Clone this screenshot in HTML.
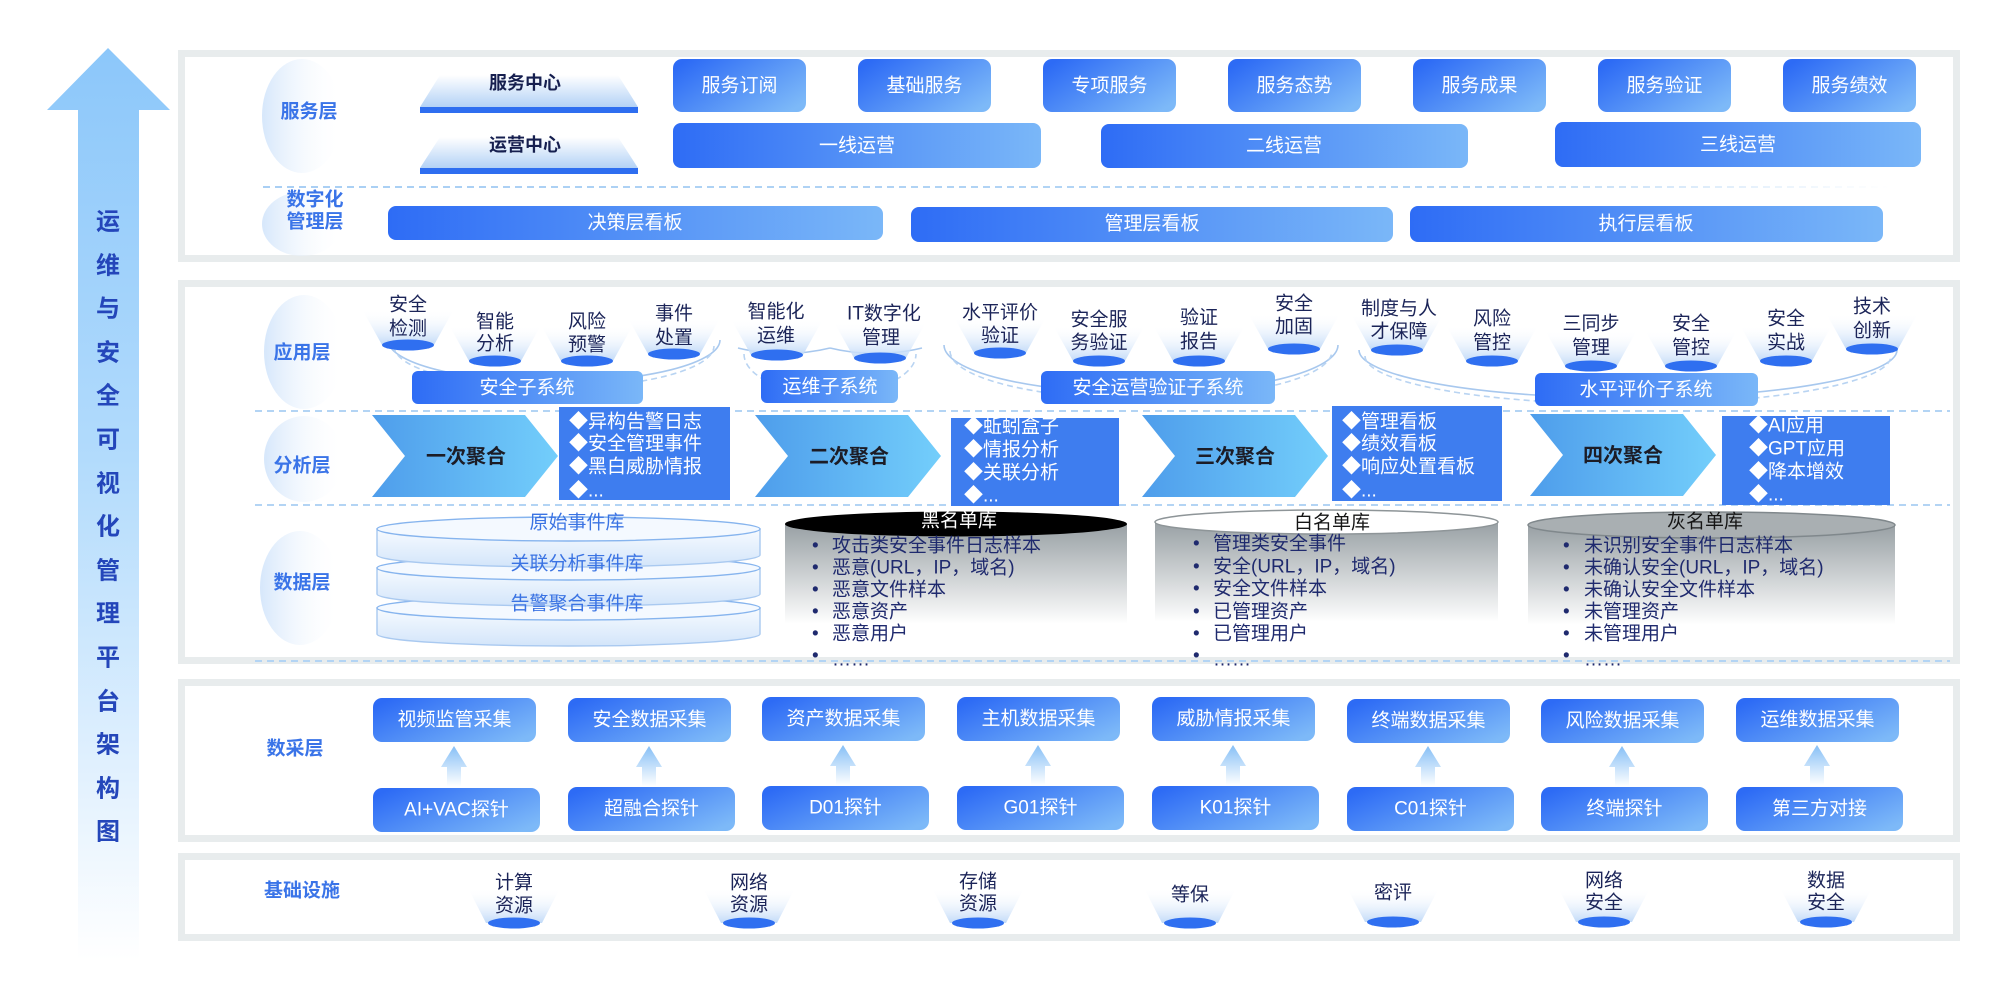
<!DOCTYPE html>
<html><head><meta charset="utf-8">
<style>
html,body{margin:0;padding:0;background:#fff;}
svg{display:block;}
text{font-family:"Liberation Sans","Noto Sans CJK SC",sans-serif;}
.lbl{font-size:19px;font-weight:bold;fill:#3a74e8;text-anchor:middle;dominant-baseline:central;}
.wt{font-size:19px;fill:#ffffff;text-anchor:middle;dominant-baseline:central;}
.nv{font-size:19px;fill:#1b2458;text-anchor:middle;dominant-baseline:central;}
.li{font-size:19px;fill:#ffffff;dominant-baseline:central;}
.dl{font-size:19px;fill:#1f2a6e;dominant-baseline:central;}
.ch{font-size:20px;font-weight:bold;fill:#1c1c26;text-anchor:middle;dominant-baseline:central;}
.vt{font-size:24px;font-weight:bold;fill:#2446ba;text-anchor:middle;dominant-baseline:central;}
</style></head><body>
<svg width="1998" height="987" viewBox="0 0 1998 987" xmlns="http://www.w3.org/2000/svg">
<defs>
 <linearGradient id="arrowG" x1="0" y1="48" x2="0" y2="960" gradientUnits="userSpaceOnUse">
  <stop offset="0" stop-color="#8cc7fa"/>
  <stop offset="0.45" stop-color="#b2dbfc"/>
  <stop offset="0.8" stop-color="#e2f1fe"/>
  <stop offset="1" stop-color="#ffffff"/>
 </linearGradient>
 <linearGradient id="btn" x1="0" y1="0.2" x2="1" y2="0.8">
  <stop offset="0" stop-color="#2d6bf5"/>
  <stop offset="1" stop-color="#7db9f8"/>
 </linearGradient>
 <linearGradient id="bar" x1="0" y1="0" x2="1" y2="0">
  <stop offset="0" stop-color="#2e6cf5"/>
  <stop offset="1" stop-color="#7ab7f8"/>
 </linearGradient>
 <linearGradient id="oval" x1="0" y1="0" x2="1" y2="0">
  <stop offset="0" stop-color="#d6e7fb"/>
  <stop offset="1" stop-color="#ffffff" stop-opacity="0"/>
 </linearGradient>
 <linearGradient id="trap" x1="0" y1="0" x2="0" y2="1">
  <stop offset="0" stop-color="#ffffff"/>
  <stop offset="1" stop-color="#b3d2f6"/>
 </linearGradient>
 <linearGradient id="funnel" x1="0" y1="0" x2="0" y2="1">
  <stop offset="0" stop-color="#ffffff" stop-opacity="0"/>
  <stop offset="1" stop-color="#c1daf8"/>
 </linearGradient>
 <linearGradient id="chev" x1="0" y1="0" x2="1" y2="0">
  <stop offset="0" stop-color="#4e9deb"/>
  <stop offset="1" stop-color="#73cefb"/>
 </linearGradient>
 <linearGradient id="cylBody" x1="0" y1="0" x2="0" y2="1">
  <stop offset="0" stop-color="#98a0a4"/>
  <stop offset="1" stop-color="#ffffff"/>
 </linearGradient>
 <linearGradient id="disc" x1="0" y1="0" x2="0" y2="1">
  <stop offset="0" stop-color="#f7fbff"/>
  <stop offset="1" stop-color="#d3e5fa"/>
 </linearGradient>
 <linearGradient id="upA" x1="0" y1="0" x2="0" y2="1">
  <stop offset="0" stop-color="#86bff6"/>
  <stop offset="1" stop-color="#ffffff"/>
 </linearGradient>
 <linearGradient id="dash1" x1="263" y1="0" x2="1890" y2="0" gradientUnits="userSpaceOnUse">
  <stop offset="0" stop-color="#a9cff4"/>
  <stop offset="0.75" stop-color="#b6d6f5"/>
  <stop offset="1" stop-color="#ffffff"/>
 </linearGradient>
</defs>

<!-- left arrow -->
<polygon points="108,48 170,110 139,110 139,960 78,960 78,110 47,110" fill="url(#arrowG)"/>
<text class="vt" x="108" y="222">运</text>
<text class="vt" x="108" y="266">维</text>
<text class="vt" x="108" y="309">与</text>
<text class="vt" x="108" y="353">安</text>
<text class="vt" x="108" y="396">全</text>
<text class="vt" x="108" y="440">可</text>
<text class="vt" x="108" y="484">视</text>
<text class="vt" x="108" y="527">化</text>
<text class="vt" x="108" y="571">管</text>
<text class="vt" x="108" y="614">理</text>
<text class="vt" x="108" y="658">平</text>
<text class="vt" x="108" y="702">台</text>
<text class="vt" x="108" y="745">架</text>
<text class="vt" x="108" y="789">构</text>
<text class="vt" x="108" y="832">图</text>

<!-- panels -->
<rect x="181.5" y="53.5" width="1775" height="205" fill="#fff" stroke="#e8eced" stroke-width="7"/>
<rect x="181.5" y="283.5" width="1775" height="377" fill="#fff" stroke="#e8eced" stroke-width="7"/>
<rect x="181.5" y="682.5" width="1775" height="156" fill="#fff" stroke="#e8eced" stroke-width="7"/>
<rect x="181.5" y="856.5" width="1775" height="81" fill="#fff" stroke="#e8eced" stroke-width="7"/>

<!-- label ovals -->
<ellipse cx="302" cy="116" rx="40" ry="57" fill="url(#oval)"/>
<ellipse cx="302" cy="224" rx="40" ry="32" fill="url(#oval)"/>
<ellipse cx="304" cy="352" rx="40" ry="57" fill="url(#oval)"/>
<ellipse cx="304" cy="459" rx="40" ry="43" fill="url(#oval)"/>
<ellipse cx="300" cy="588" rx="40" ry="57" fill="url(#oval)"/>

<text class="lbl" x="309" y="112">服务层</text>
<text class="lbl" x="315" y="200">数字化</text>
<text class="lbl" x="315" y="222">管理层</text>
<text class="lbl" x="302" y="353">应用层</text>
<text class="lbl" x="302" y="466">分析层</text>
<text class="lbl" x="302" y="583">数据层</text>
<text class="lbl" x="295" y="749">数采层</text>
<text class="lbl" x="302" y="891">基础设施</text>

<!-- dashed separators -->
<line x1="263" y1="187" x2="1890" y2="187" stroke="url(#dash1)" stroke-width="2" stroke-dasharray="7 5"/>
<line x1="255" y1="411" x2="1950" y2="411" stroke="#b3d4f4" stroke-width="2" stroke-dasharray="7 5"/>
<line x1="255" y1="505" x2="1950" y2="505" stroke="#b3d4f4" stroke-width="2" stroke-dasharray="7 5"/>
<line x1="255" y1="661" x2="1950" y2="661" stroke="#b3d4f4" stroke-width="2" stroke-dasharray="7 5"/>

<!-- service center trapezoids -->
<polygon points="440,75 618,75 638,107 420,107" fill="url(#trap)"/>
<rect x="420" y="107" width="218" height="6" fill="#2e6ef0"/>
<text x="525" y="83" font-size="18" font-weight="bold" fill="#161f4f" text-anchor="middle" dominant-baseline="central">服务中心</text>
<polygon points="440,137 618,137 638,168 420,168" fill="url(#trap)"/>
<rect x="420" y="168" width="218" height="6" fill="#2e6ef0"/>
<text x="525" y="145" font-size="18" font-weight="bold" fill="#161f4f" text-anchor="middle" dominant-baseline="central">运营中心</text>

<!-- service boxes -->
<g>
<rect x="673" y="59" width="133" height="53" rx="9" fill="url(#btn)"/><text class="wt" x="739.5" y="86">服务订阅</text>
<rect x="858" y="59" width="133" height="53" rx="9" fill="url(#btn)"/><text class="wt" x="924.5" y="86">基础服务</text>
<rect x="1043" y="59" width="133" height="53" rx="9" fill="url(#btn)"/><text class="wt" x="1109.5" y="86">专项服务</text>
<rect x="1228" y="59" width="133" height="53" rx="9" fill="url(#btn)"/><text class="wt" x="1294.5" y="86">服务态势</text>
<rect x="1413" y="59" width="133" height="53" rx="9" fill="url(#btn)"/><text class="wt" x="1479.5" y="86">服务成果</text>
<rect x="1598" y="59" width="133" height="53" rx="9" fill="url(#btn)"/><text class="wt" x="1664.5" y="86">服务验证</text>
<rect x="1783" y="59" width="133" height="53" rx="9" fill="url(#btn)"/><text class="wt" x="1849.5" y="86">服务绩效</text>
</g>
<rect x="673" y="123" width="368" height="45" rx="8" fill="url(#bar)"/><text class="wt" x="857" y="146">一线运营</text>
<rect x="1101" y="124" width="367" height="44" rx="8" fill="url(#bar)"/><text class="wt" x="1284" y="146">二线运营</text>
<rect x="1555" y="122" width="366" height="45" rx="8" fill="url(#bar)"/><text class="wt" x="1738" y="145">三线运营</text>

<rect x="388" y="206" width="495" height="34" rx="8" fill="url(#bar)"/><text class="wt" x="635" y="223">决策层看板</text>
<rect x="911" y="207" width="482" height="35" rx="8" fill="url(#bar)"/><text class="wt" x="1152" y="224">管理层看板</text>
<rect x="1410" y="206" width="473" height="36" rx="8" fill="url(#bar)"/><text class="wt" x="1646" y="224">执行层看板</text>

<!-- app layer loops -->
<g fill="none" stroke="#a8c8ee" stroke-width="1.6">
<path d="M388,340 A166,42 0 0 0 720,340"/>
<path d="M830,348 A92,40 0 0 0 922,348" />
<path d="M738,348 A92,40 0 0 0 830,348" />
<path d="M944,345 A197,48 0 0 0 1338,345"/>
<path d="M1359,350 A269,48 0 0 0 1897,350"/>
</g>
<g fill="none" stroke="#b9d4f2" stroke-width="1.6" stroke-dasharray="6 4">
<path d="M394,346 A160,42 0 0 0 714,346"/>
<path d="M744,354 A86,40 0 0 0 916,354"/>
<path d="M950,351 A191,48 0 0 0 1332,351"/>
<path d="M1365,356 A263,48 0 0 0 1891,356"/>
</g>

<!-- app funnels -->
<g fill="url(#funnel)">
<polygon points="362,309 454,309 434,345 382,345"/>
<polygon points="449,325 541,325 521,361 469,361"/>
<polygon points="541,325 633,325 613,361 561,361"/>
<polygon points="628,318 720,318 700,354 648,354"/>
<polygon points="731,319 823,319 803,355 751,355"/>
<polygon points="834,322 926,322 906,358 854,358"/>
<polygon points="954,317 1046,317 1026,353 974,353"/>
<polygon points="1053,325 1145,325 1125,361 1073,361"/>
<polygon points="1153,325 1245,325 1225,361 1173,361"/>
<polygon points="1248,313 1340,313 1320,349 1268,349"/>
<polygon points="1351,314 1443,314 1423,350 1371,350"/>
<polygon points="1446,325 1538,325 1518,361 1466,361"/>
<polygon points="1545,330 1637,330 1617,366 1565,366"/>
<polygon points="1645,330 1737,330 1717,366 1665,366"/>
<polygon points="1740,325 1832,325 1812,361 1760,361"/>
<polygon points="1826,313 1918,313 1898,349 1846,349"/>
</g>
<g fill="#2f6ff0">
<ellipse cx="408" cy="345" rx="26" ry="5.5"/>
<ellipse cx="495" cy="361" rx="26" ry="5.5"/>
<ellipse cx="587" cy="361" rx="26" ry="5.5"/>
<ellipse cx="674" cy="354" rx="26" ry="5.5"/>
<ellipse cx="777" cy="355" rx="26" ry="5.5"/>
<ellipse cx="880" cy="358" rx="26" ry="5.5"/>
<ellipse cx="1000" cy="353" rx="26" ry="5.5"/>
<ellipse cx="1099" cy="361" rx="26" ry="5.5"/>
<ellipse cx="1199" cy="361" rx="26" ry="5.5"/>
<ellipse cx="1294" cy="349" rx="26" ry="5.5"/>
<ellipse cx="1397" cy="350" rx="26" ry="5.5"/>
<ellipse cx="1492" cy="361" rx="26" ry="5.5"/>
<ellipse cx="1591" cy="366" rx="26" ry="5.5"/>
<ellipse cx="1691" cy="366" rx="26" ry="5.5"/>
<ellipse cx="1786" cy="361" rx="26" ry="5.5"/>
<ellipse cx="1872" cy="349" rx="26" ry="5.5"/>
</g>
<g>
<text class="nv" x="408" y="305">安全</text><text class="nv" x="408" y="329">检测</text>
<text class="nv" x="495" y="322">智能</text><text class="nv" x="495" y="344">分析</text>
<text class="nv" x="587" y="322">风险</text><text class="nv" x="587" y="345">预警</text>
<text class="nv" x="674" y="314">事件</text><text class="nv" x="674" y="338">处置</text>
<text class="nv" x="776" y="312">智能化</text><text class="nv" x="776" y="336">运维</text>
<text class="nv" x="884" y="314">IT数字化</text><text class="nv" x="881" y="338">管理</text>
<text class="nv" x="1000" y="313">水平评价</text><text class="nv" x="1000" y="336">验证</text>
<text class="nv" x="1099" y="320">安全服</text><text class="nv" x="1099" y="343">务验证</text>
<text class="nv" x="1199" y="318">验证</text><text class="nv" x="1199" y="342">报告</text>
<text class="nv" x="1294" y="304">安全</text><text class="nv" x="1294" y="327">加固</text>
<text class="nv" x="1399" y="309">制度与人</text><text class="nv" x="1399" y="332">才保障</text>
<text class="nv" x="1492" y="319">风险</text><text class="nv" x="1492" y="343">管控</text>
<text class="nv" x="1591" y="324">三同步</text><text class="nv" x="1591" y="348">管理</text>
<text class="nv" x="1691" y="324">安全</text><text class="nv" x="1691" y="348">管控</text>
<text class="nv" x="1786" y="319">安全</text><text class="nv" x="1786" y="343">实战</text>
<text class="nv" x="1872" y="307">技术</text><text class="nv" x="1872" y="331">创新</text>
</g>

<!-- subsystem boxes -->
<rect x="412" y="371" width="231" height="33" rx="6" fill="url(#bar)"/><text class="wt" x="527" y="388">安全子系统</text>
<rect x="761" y="370" width="137" height="33" rx="6" fill="url(#bar)"/><text class="wt" x="830" y="387">运维子系统</text>
<rect x="1041" y="371" width="234" height="33" rx="6" fill="url(#bar)"/><text class="wt" x="1158" y="388">安全运营验证子系统</text>
<rect x="1535" y="373" width="223" height="33" rx="6" fill="url(#bar)"/><text class="wt" x="1646" y="390">水平评价子系统</text>

<!-- analysis chevrons -->
<polygon points="372,415 525,415 558,456 525,497 372,497 405,456" fill="url(#chev)"/>
<text class="ch" x="466" y="457">一次聚合</text>
<polygon points="755,415 908,415 941,456 908,497 755,497 788,456" fill="url(#chev)"/>
<text class="ch" x="849" y="457">二次聚合</text>
<polygon points="1142,415 1295,415 1328,456 1295,497 1142,497 1175,456" fill="url(#chev)"/>
<text class="ch" x="1235" y="457">三次聚合</text>
<polygon points="1530,414 1683,414 1716,455 1683,496 1530,496 1563,455" fill="url(#chev)"/>
<text class="ch" x="1623" y="456">四次聚合</text>

<!-- list boxes -->
<rect x="559" y="407" width="171" height="93" fill="#3e7def"/>
<text class="li" x="569" y="422">◆异构告警日志</text>
<text class="li" x="569" y="444">◆安全管理事件</text>
<text class="li" x="569" y="467">◆黑白威胁情报</text>
<text class="li" x="569" y="491">◆...</text>

<rect x="951" y="418" width="168" height="88" fill="#3e7def"/>
<text class="li" x="964" y="427">◆蚯蚓盒子</text>
<text class="li" x="964" y="450">◆情报分析</text>
<text class="li" x="964" y="473">◆关联分析</text>
<text class="li" x="964" y="496">◆...</text>

<rect x="1332" y="406" width="170" height="95" fill="#3e7def"/>
<text class="li" x="1342" y="422">◆管理看板</text>
<text class="li" x="1342" y="444">◆绩效看板</text>
<text class="li" x="1342" y="467">◆响应处置看板</text>
<text class="li" x="1342" y="491">◆...</text>

<rect x="1722" y="416" width="168" height="89" fill="#3e7def"/>
<text class="li" x="1749" y="426">◆AI应用</text>
<text class="li" x="1749" y="449">◆GPT应用</text>
<text class="li" x="1749" y="472">◆降本增效</text>
<text class="li" x="1749" y="495">◆...</text>

<!-- data layer: discs -->
<g stroke="#a9c9f0" stroke-width="1.4">
<path d="M377,608 L377,634 A191.5,12 0 0 0 760,634 L760,608 Z" fill="url(#disc)"/>
<ellipse cx="568.5" cy="608" rx="191.5" ry="12" fill="#f4f9ff" stroke="#86b4ee"/>
<path d="M377,568 L377,594 A191.5,12 0 0 0 760,594 L760,568 Z" fill="url(#disc)"/>
<ellipse cx="568.5" cy="568" rx="191.5" ry="12" fill="#f4f9ff" stroke="#86b4ee"/>
<path d="M377,529 L377,555 A191.5,12 0 0 0 760,555 L760,529 Z" fill="url(#disc)"/>
<ellipse cx="568.5" cy="529" rx="191.5" ry="12" fill="#f4f9ff" stroke="#86b4ee"/>
</g>
<text x="577" y="523" font-size="19" fill="#3a73e3" text-anchor="middle" dominant-baseline="central">原始事件库</text>
<text x="577" y="564" font-size="19" fill="#3a73e3" text-anchor="middle" dominant-baseline="central">关联分析事件库</text>
<text x="577" y="604" font-size="19" fill="#3a73e3" text-anchor="middle" dominant-baseline="central">告警聚合事件库</text>

<!-- cylinders -->
<rect x="785" y="524" width="342" height="100" fill="url(#cylBody)"/>
<ellipse cx="956" cy="524" rx="171" ry="12.5" fill="#000"/>
<text x="959" y="521" font-size="19" fill="#fff" text-anchor="middle" dominant-baseline="central">黑名单库</text>

<rect x="1155" y="522" width="343" height="100" fill="url(#cylBody)"/>
<ellipse cx="1326.5" cy="522" rx="171.5" ry="12" fill="#fff" stroke="#8e9598" stroke-width="1.5"/>
<text x="1332" y="523" font-size="19" fill="#151515" text-anchor="middle" dominant-baseline="central">白名单库</text>

<rect x="1528" y="525" width="367" height="100" fill="url(#cylBody)"/>
<ellipse cx="1711.5" cy="525" rx="183.5" ry="13" fill="#a9afb2" stroke="#80888c" stroke-width="1.5"/>
<text x="1705" y="522" font-size="19" fill="#151515" text-anchor="middle" dominant-baseline="central">灰名单库</text>

<g>
<text class="dl" x="812" y="546">•</text><text class="dl" x="832" y="546">攻击类安全事件日志样本</text>
<text class="dl" x="812" y="568">•</text><text class="dl" x="832" y="568">恶意(URL，IP，域名)</text>
<text class="dl" x="812" y="590">•</text><text class="dl" x="832" y="590">恶意文件样本</text>
<text class="dl" x="812" y="612">•</text><text class="dl" x="832" y="612">恶意资产</text>
<text class="dl" x="812" y="634">•</text><text class="dl" x="832" y="634">恶意用户</text>
<text class="dl" x="812" y="656">•</text><text class="dl" x="832" y="660">……</text>

<text class="dl" x="1193" y="544">•</text><text class="dl" x="1213" y="544">管理类安全事件</text>
<text class="dl" x="1193" y="567">•</text><text class="dl" x="1213" y="567">安全(URL，IP，域名)</text>
<text class="dl" x="1193" y="589">•</text><text class="dl" x="1213" y="589">安全文件样本</text>
<text class="dl" x="1193" y="612">•</text><text class="dl" x="1213" y="612">已管理资产</text>
<text class="dl" x="1193" y="634">•</text><text class="dl" x="1213" y="634">已管理用户</text>
<text class="dl" x="1193" y="656">•</text><text class="dl" x="1213" y="660">……</text>

<text class="dl" x="1563" y="546">•</text><text class="dl" x="1584" y="546">未识别安全事件日志样本</text>
<text class="dl" x="1563" y="568">•</text><text class="dl" x="1584" y="568">未确认安全(URL，IP，域名)</text>
<text class="dl" x="1563" y="590">•</text><text class="dl" x="1584" y="590">未确认安全文件样本</text>
<text class="dl" x="1563" y="612">•</text><text class="dl" x="1584" y="612">未管理资产</text>
<text class="dl" x="1563" y="634">•</text><text class="dl" x="1584" y="634">未管理用户</text>
<text class="dl" x="1563" y="656">•</text><text class="dl" x="1584" y="660">……</text>
</g>

<!-- collection layer -->
<g>
<rect x="373" y="698" width="163" height="44" rx="9" fill="url(#btn)"/><text class="wt" x="454.5" y="720">视频监管采集</text>
<rect x="568" y="698" width="163" height="44" rx="9" fill="url(#btn)"/><text class="wt" x="649.5" y="720">安全数据采集</text>
<rect x="762" y="697" width="163" height="44" rx="9" fill="url(#btn)"/><text class="wt" x="843.5" y="719">资产数据采集</text>
<rect x="957" y="697" width="163" height="44" rx="9" fill="url(#btn)"/><text class="wt" x="1038.5" y="719">主机数据采集</text>
<rect x="1152" y="697" width="163" height="44" rx="9" fill="url(#btn)"/><text class="wt" x="1233.5" y="719">威胁情报采集</text>
<rect x="1347" y="699" width="163" height="44" rx="9" fill="url(#btn)"/><text class="wt" x="1428.5" y="721">终端数据采集</text>
<rect x="1541" y="699" width="163" height="44" rx="9" fill="url(#btn)"/><text class="wt" x="1622.5" y="721">风险数据采集</text>
<rect x="1736" y="698" width="163" height="44" rx="9" fill="url(#btn)"/><text class="wt" x="1817.5" y="720">运维数据采集</text>

<rect x="373" y="788" width="167" height="44" rx="9" fill="url(#btn)"/><text class="wt" x="456.5" y="810">AI+VAC探针</text>
<rect x="568" y="787" width="167" height="44" rx="9" fill="url(#btn)"/><text class="wt" x="651.5" y="809">超融合探针</text>
<rect x="762" y="786" width="167" height="44" rx="9" fill="url(#btn)"/><text class="wt" x="845.5" y="808">D01探针</text>
<rect x="957" y="786" width="167" height="44" rx="9" fill="url(#btn)"/><text class="wt" x="1040.5" y="808">G01探针</text>
<rect x="1152" y="786" width="167" height="44" rx="9" fill="url(#btn)"/><text class="wt" x="1235.5" y="808">K01探针</text>
<rect x="1347" y="787" width="167" height="44" rx="9" fill="url(#btn)"/><text class="wt" x="1430.5" y="809">C01探针</text>
<rect x="1541" y="787" width="167" height="44" rx="9" fill="url(#btn)"/><text class="wt" x="1624.5" y="809">终端探针</text>
<rect x="1736" y="787" width="167" height="44" rx="9" fill="url(#btn)"/><text class="wt" x="1819.5" y="809">第三方对接</text>
</g>
<g fill="url(#upA)">
<polygon points="454,746 467,767 461,767 461,786 447,786 447,767 441,767"/>
<polygon points="649,746 662,767 656,767 656,786 642,786 642,767 636,767"/>
<polygon points="843,745 856,766 850,766 850,785 836,785 836,766 830,766"/>
<polygon points="1038,745 1051,766 1045,766 1045,785 1031,785 1031,766 1025,766"/>
<polygon points="1233,745 1246,766 1240,766 1240,785 1226,785 1226,766 1220,766"/>
<polygon points="1428,746 1441,767 1435,767 1435,786 1421,786 1421,767 1415,767"/>
<polygon points="1622,746 1635,767 1629,767 1629,786 1615,786 1615,767 1609,767"/>
<polygon points="1817,745 1830,766 1824,766 1824,785 1810,785 1810,766 1804,766"/>
</g>

<!-- infrastructure -->
<g fill="url(#funnel)">
<polygon points="468,888 560,888 542,923 486,923"/>
<polygon points="703,888 795,888 777,923 721,923"/>
<polygon points="932,888 1024,888 1006,923 950,923"/>
<polygon points="1144,888 1236,888 1218,923 1162,923"/>
<polygon points="1347,888 1439,888 1421,922 1365,922"/>
<polygon points="1558,888 1650,888 1632,922 1576,922"/>
<polygon points="1780,888 1872,888 1854,922 1798,922"/>
</g>
<g fill="#2f6ff0">
<ellipse cx="514" cy="923" rx="26" ry="5.5"/>
<ellipse cx="749" cy="923" rx="26" ry="5.5"/>
<ellipse cx="978" cy="923" rx="26" ry="5.5"/>
<ellipse cx="1190" cy="923" rx="26" ry="5.5"/>
<ellipse cx="1393" cy="922" rx="26" ry="5.5"/>
<ellipse cx="1604" cy="922" rx="26" ry="5.5"/>
<ellipse cx="1826" cy="922" rx="26" ry="5.5"/>
</g>
<text class="nv" x="514" y="883">计算</text><text class="nv" x="514" y="906">资源</text>
<text class="nv" x="749" y="883">网络</text><text class="nv" x="749" y="905">资源</text>
<text class="nv" x="978" y="882">存储</text><text class="nv" x="978" y="904">资源</text>
<text class="nv" x="1190" y="895">等保</text>
<text class="nv" x="1393" y="893">密评</text>
<text class="nv" x="1604" y="881">网络</text><text class="nv" x="1604" y="903">安全</text>
<text class="nv" x="1826" y="881">数据</text><text class="nv" x="1826" y="903">安全</text>
</svg>
</body></html>
